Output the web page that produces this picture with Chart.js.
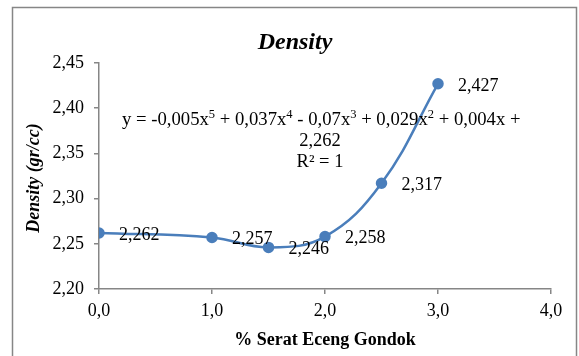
<!DOCTYPE html>
<html>
<head>
<meta charset="utf-8">
<script src="https://cdn.jsdelivr.net/npm/chart.js@4"></script>
<style>
  html, body { margin: 0; padding: 0; background: #fff; }
  #wrap { width: 579px; height: 356px; }
</style>
</head>
<body>
<div id="wrap"><canvas id="grafico"></canvas></div>
<script>
const serat = [0, 1, 1.5, 2, 2.5, 3];
const density = [2.262, 2.257, 2.246, 2.258, 2.317, 2.427];
const judul = 'Density';
const judulX = '% Serat Eceng Gondok';
const judulY = 'Density (gr/cc)';
// baris pertama persamaan: [teks, pangkat]
const persamaan1 = [
  ['y = -0,005x', '5'], [' + 0,037x', '4'], [' - 0,07x', '3'], [' + 0,029x', '2'], [' + 0,004x +', '']
];
const persamaan2 = '2,262';
const persamaanR = 'R\u00b2 = 1';

const biru = '#4a7ebb';
const abu = '#868686';
const serif = '"Liberation Serif", "Times New Roman", serif';

const koma = (v, d) => v.toFixed(d).replace('.', ',');

const hiasan = {
  id: 'hiasan',
  beforeDraw(chart) {
    const c = chart.ctx;
    c.save();
    c.fillStyle = '#fff';
    c.fillRect(0, 0, chart.width, chart.height);
    c.strokeStyle = abu;
    c.lineWidth = 1.5;
    c.strokeRect(12.5, 7.5, 564, 360);
    c.restore();
  },
  afterDraw(chart) {
    const c = chart.ctx;
    const sx = chart.scales.x, sy = chart.scales.y;
    c.save();
    c.fillStyle = '#000';
    // judul
    c.textAlign = 'center';
    c.textBaseline = 'middle';
    c.font = 'italic bold 24px ' + serif;
    c.fillText(judul, 295, 43);
    // judul sumbu x
    c.font = 'bold 18px ' + serif;
    c.fillText(judulX, 325, 340);
    // judul sumbu y
    c.save();
    c.translate(34, 178);
    c.rotate(-Math.PI / 2);
    c.font = 'italic bold 18px ' + serif;
    c.fillText(judulY, 0, 0);
    c.restore();
    // label data
    c.font = '18px ' + serif;
    c.textAlign = 'left';
    serat.forEach((x, i) => {
      c.fillText(koma(density[i], 3), sx.getPixelForValue(x) + 20, sy.getPixelForValue(density[i]) + 2);
    });
    // persamaan trendline
    c.textBaseline = 'alphabetic';
    let px = 122;
    persamaan1.forEach(([t, p]) => {
      c.font = '18.7px ' + serif;
      c.fillText(t, px, 125);
      px += c.measureText(t).width;
      if (p) {
        c.font = '12.5px ' + serif;
        c.fillText(p, px, 118);
        px += c.measureText(p).width;
      }
    });
    c.textBaseline = 'middle';
    c.textAlign = 'center';
    c.font = '18.5px ' + serif;
    c.fillText(persamaan2, 320, 141);
    c.fillText(persamaanR, 320, 162);
    c.restore();
  }
};

const ctx = document.getElementById('grafico');

let grafico = new Chart(ctx, {
  type: 'scatter',
  data: {
    datasets: [{
      label: 'Density',
      data: serat.map((x, i) => ({ x: x, y: density[i] })),
      showLine: true,
      tension: 0.4,
      borderColor: biru,
      backgroundColor: biru,
      borderWidth: 2.5,
      pointRadius: 4.5,
      pointHoverRadius: 4.5
    }]
  },
  options: {
    responsive: true,
    maintainAspectRatio: false,
    animation: false,
    events: [],
    layout: { padding: { left: 0, right: 28, top: 63, bottom: 0 } },
    plugins: {
      legend: { display: false },
      tooltip: { enabled: false }
    },
    scales: {
      x: {
        type: 'linear',
        min: 0,
        max: 4,
        afterFit: s => { s.height = 67; },
        ticks: {
          stepSize: 1,
          padding: 6,
          color: '#000',
          font: { family: serif, size: 18 },
          callback: v => koma(v, 1)
        },
        grid: { drawOnChartArea: false, drawTicks: true, tickLength: 5, color: abu, lineWidth: 1.5 },
        border: { color: abu, width: 1.5 }
      },
      y: {
        min: 2.2,
        max: 2.45,
        afterFit: s => { s.width = 99; },
        ticks: {
          stepSize: 0.05,
          padding: 10,
          color: '#000',
          font: { family: serif, size: 18 },
          callback: v => koma(v, 2)
        },
        grid: { drawOnChartArea: false, drawTicks: true, tickLength: 5, color: abu, lineWidth: 1.5 },
        border: { color: abu, width: 1.5 }
      }
    }
  },
  plugins: [hiasan]
});
</script>
</body>
</html>
